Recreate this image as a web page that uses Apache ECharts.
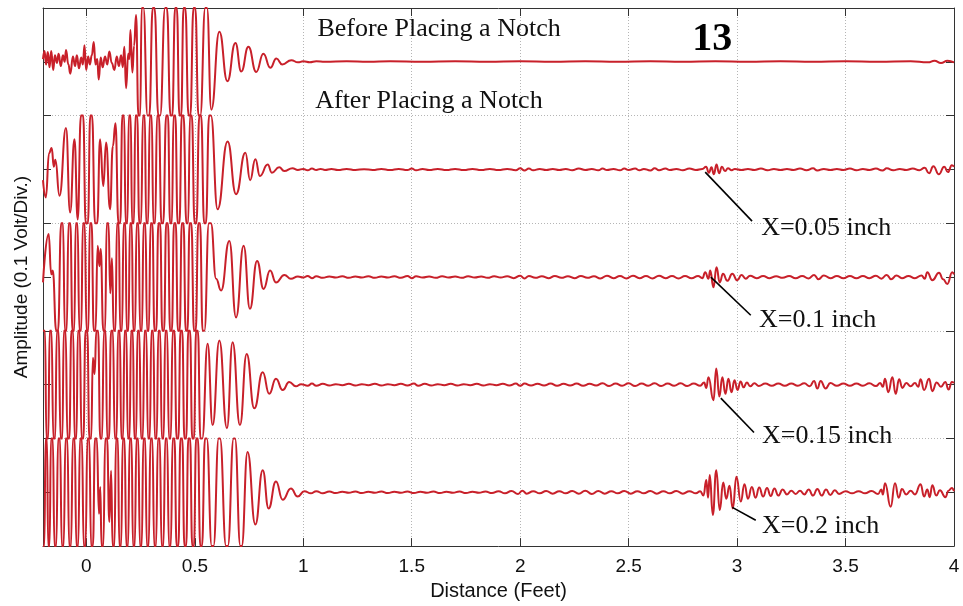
<!DOCTYPE html>
<html>
<head>
<meta charset="utf-8">
<script src="https://cdn.jsdelivr.net/npm/echarts@6/dist/echarts.min.js"></script>
<style>html,body{margin:0;padding:0;background:#fff;}#c{width:963px;height:606px;}</style>
</head>
<body>
<div id="c"></div>
<script>
// ---- data: [distance (ft), amplitude (divisions, relative to each trace's own baseline)] ----
const xTicks = [0, 0.5, 1, 1.5, 2, 2.5, 3, 3.5, 4];
const traceNames = ['Before Placing a Notch', 'X=0.05 inch', 'X=0.1 inch', 'X=0.15 inch', 'X=0.2 inch'];
const traceBaselines = [9, 7, 5, 3, 1];

const trace1 = [[-0.200,0.05],[-0.193,0.20],[-0.186,-0.05],[-0.178,0.18],[-0.170,-0.10],[-0.162,0.20],[-0.153,-0.15],[-0.145,0.12],[-0.136,-0.02],[-0.128,0.15],[-0.118,-0.08],[-0.108,0.12],[-0.100,0.0],[-0.094,0.22],[-0.083,-0.05],[-0.074,-0.22],[-0.062,0.10],[-0.052,-0.08],[-0.044,0.12],[-0.034,-0.12],[-0.024,0.08],[-0.016,-0.05],[-0.009,0.31],[-0.001,-0.15],[0.008,0.10],[0.016,-0.05],[0.025,0.12],[0.034,0.37],[0.042,-0.05],[0.050,0.05],[0.057,-0.33],[0.066,0.08],[0.075,-0.10],[0.086,0.10],[0.096,-0.05],[0.106,0.19],[0.117,-0.02],[0.129,-0.15],[0.140,0.10],[0.150,-0.08],[0.160,0.12],[0.168,-0.10],[0.175,0.28],[0.183,-0.49],[0.193,0.15],[0.198,0.05],[0.203,0.59],[0.212,-0.20],[0.220,0.30],[0.229,0.87],
[0.240,-1],[0.248,-1],[0.255,1],[0.263,1],[0.282,-1],[0.290,-1],[0.306,1],[0.314,1],[0.332,-1],[0.340,-1],[0.363,1],[0.371,1],[0.388,-1],[0.396,-1],[0.409,1],[0.417,1],[0.429,-1],[0.437,-1],[0.448,1],[0.456,1],[0.471,-1],[0.479,-1],[0.494,1],[0.502,1],[0.517,-1],[0.525,-1],[0.548,1],[0.556,1],
[0.576,-0.89],[0.613,0.56],[0.650,-0.36],[0.687,0.35],[0.714,-0.18],[0.747,0.28],[0.783,-0.19],[0.816,0.15],[0.848,-0.11],[0.876,0.06],[0.903,-0.05],[0.945,0.03],[0.975,-0.01],
[1.00,0.01],[1.03,-0.01],[1.06,0.01],[1.10,0.0],[1.20,0.01],[1.30,0.0],[1.40,0.01],[1.55,0.0],[1.70,0.01],[1.85,0.0],[2.00,0.01],[2.15,0.0],[2.30,0.01],[2.45,0.0],[2.60,0.01],[2.75,0.0],[2.90,0.01],[3.05,0.0],[3.20,0.01],[3.35,0.0],[3.50,0.01],[3.65,0.0],[3.80,0.01],[3.88,-0.01],[3.91,0.02],[3.94,-0.02],[3.97,0.02],[4.00,-0.01]];

const trace2 = [[-0.200,-0.20],[-0.187,-0.52],[-0.172,0.30],[-0.160,0.40],[-0.150,0.05],[-0.143,0.18],[-0.124,-0.49],[-0.094,0.77],[-0.075,-0.80],[-0.055,0.56],[-0.040,-0.93],
[-0.025,1],[-0.015,1],[-0.003,-1],[0.007,-1],[0.018,1],[0.026,1],[0.040,-1],[0.050,-1],
[0.063,0.56],[0.078,-0.31],[0.091,0.50],[0.109,-0.74],[0.122,0.43],[0.134,0.86],
[0.148,-1],[0.156,-1],[0.166,1],[0.174,1],[0.181,-1],[0.189,-1],[0.196,1],[0.204,1],[0.211,-1],[0.219,-1],[0.226,1],[0.234,1],[0.244,-1],[0.252,-1],[0.261,1],[0.269,1],[0.276,-1],[0.284,-1],[0.293,1],[0.301,1],[0.309,-1],[0.317,-1],[0.326,1],[0.334,1],[0.346,-1],[0.354,-1],[0.368,1],[0.376,1],[0.386,-1],[0.394,-1],[0.402,1],[0.410,1],[0.421,-1],[0.429,-1],[0.440,1],[0.448,1],[0.461,-1],[0.469,-1],[0.478,1],[0.486,1],[0.499,-1],[0.507,-1],[0.521,1],[0.529,1],[0.543,-1],[0.551,-1],[0.566,1],[0.574,1],
[0.605,-0.74],[0.651,0.52],[0.690,-0.46],[0.733,0.31],[0.755,-0.20],[0.779,0.19],[0.800,-0.12],[0.836,0.09],[0.855,-0.06],[0.889,0.04],[0.912,-0.03],[0.950,0.02],[0.975,-0.01],
[1.00,0.01],[1.02,-0.015],[1.04,0.015],[1.06,-0.01],[1.08,0.01],[1.10,-0.01],[1.13,0.01],[1.16,-0.01],[1.20,0.01],[1.24,-0.01],[1.28,0.005],[1.32,-0.01],[1.36,0.01],[1.40,-0.01],[1.44,0.01],[1.48,-0.01],[1.50,0.015],[1.52,-0.015],[1.55,0.01],[1.58,-0.01],[1.62,0.01],[1.66,-0.01],[1.70,0.01],[1.74,-0.01],[1.78,0.01],[1.82,-0.01],[1.86,0.01],[1.90,-0.01],[1.94,0.01],[1.98,-0.015],[2.00,0.02],[2.02,-0.02],[2.04,0.015],[2.06,-0.015],[2.09,0.01],[2.12,-0.01],[2.15,0.01],[2.18,-0.01],[2.21,0.01],[2.24,-0.015],[2.27,0.015],[2.30,-0.01],[2.33,0.01],[2.36,-0.015],[2.38,0.015],[2.40,-0.01],[2.43,0.01],[2.46,-0.015],[2.48,0.015],[2.50,-0.01],[2.53,0.015],[2.55,-0.015],[2.57,0.01],[2.60,-0.02],[2.62,0.02],[2.64,-0.015],[2.67,0.015],[2.69,-0.01],[2.72,0.01],[2.75,-0.015],[2.78,0.015],[2.81,-0.01],[2.84,0.01],
[2.857,0.05],[2.870,-0.06],[2.882,0.04],[2.893,-0.09],[2.905,0.09],[2.917,-0.07],[2.930,0.05],[2.944,-0.03],[2.958,0.02],[2.975,-0.015],[2.99,0.01],[3.02,-0.01],[3.05,0.01],[3.08,-0.01],[3.11,0.015],[3.14,-0.015],[3.17,0.01],[3.20,-0.01],[3.23,0.01],[3.26,-0.01],[3.29,0.015],[3.32,-0.015],[3.35,0.02],[3.37,-0.02],[3.40,0.01],[3.43,-0.01],[3.46,0.01],[3.49,-0.01],[3.52,0.015],[3.55,-0.015],[3.58,0.01],[3.61,-0.01],[3.64,0.015],[3.67,-0.02],[3.69,0.02],[3.72,-0.015],[3.75,0.01],[3.78,-0.01],[3.81,0.015],[3.84,-0.015],[3.865,0.03],[3.885,-0.07],[3.905,0.06],[3.930,-0.09],[3.955,0.05],[3.972,-0.05],[3.990,0.08],[4.00,0.05]];

const trace3 = [[-0.200,-0.10],[-0.174,0.80],[-0.162,0.05],[-0.155,0.12],
[-0.139,-1],[-0.131,-1],[-0.116,1],[-0.108,1],[-0.099,-1],[-0.091,-1],[-0.082,1],[-0.074,1],[-0.064,-1],[-0.056,-1],[-0.049,1],[-0.041,1],[-0.032,-1],[-0.024,-1],[-0.016,1],[-0.008,1],[0.001,-1],[0.009,-1],[0.016,1],[0.024,1],[0.034,-1],[0.042,-1],
[0.052,0.58],[0.060,0.20],[0.066,0.52],
[0.078,-1],[0.086,-1],[0.094,1],[0.102,1],[0.110,-0.30],[0.118,0.35],
[0.126,-1],[0.134,-1],[0.141,1],[0.149,1],[0.156,-1],[0.164,-1],[0.172,1],[0.180,1],[0.186,-1],[0.194,-1],[0.201,1],[0.209,1],[0.216,-1],[0.224,-1],[0.232,1],[0.240,1],[0.248,-1],[0.256,-1],[0.264,1],[0.272,1],[0.280,-1],[0.288,-1],[0.296,1],[0.304,1],[0.314,-1],[0.322,-1],[0.332,1],[0.340,1],[0.350,-1],[0.358,-1],[0.368,1],[0.376,1],[0.386,-1],[0.394,-1],[0.404,1],[0.412,1],[0.422,-1],[0.430,-1],[0.440,1],[0.448,1],[0.458,-1],[0.466,-1],[0.476,1],[0.484,1],[0.496,-1],[0.504,-1],[0.516,1],[0.524,1],[0.536,-1],[0.544,-1],[0.565,1],[0.574,1],
[0.598,-0.03],[0.621,-0.25],[0.659,0.67],[0.690,-0.75],[0.725,0.58],[0.754,-0.59],[0.787,0.30],[0.817,-0.22],[0.847,0.12],[0.874,-0.10],[0.913,0.04],[0.943,-0.03],[0.975,0.01],
[1.00,-0.01],[1.02,0.02],[1.04,-0.02],[1.06,0.015],[1.09,-0.015],[1.12,0.01],[1.15,-0.01],[1.18,0.015],[1.21,-0.015],[1.24,0.01],[1.27,-0.01],[1.30,0.015],[1.33,-0.015],[1.36,0.01],[1.39,-0.01],[1.42,0.015],[1.45,-0.015],[1.48,0.02],[1.50,-0.02],[1.52,0.015],[1.55,-0.01],[1.58,0.01],[1.61,-0.015],[1.64,0.015],[1.67,-0.01],[1.70,0.01],[1.73,-0.015],[1.76,0.015],[1.79,-0.01],[1.82,0.01],[1.85,-0.015],[1.88,0.015],[1.91,-0.01],[1.94,0.015],[1.97,-0.02],[2.00,0.025],[2.02,-0.025],[2.04,0.02],[2.07,-0.015],[2.10,0.015],[2.13,-0.02],[2.16,0.02],[2.19,-0.015],[2.22,0.015],[2.25,-0.02],[2.28,0.02],[2.31,-0.015],[2.34,0.015],[2.37,-0.025],[2.40,0.025],[2.43,-0.02],[2.46,0.02],[2.49,-0.025],[2.52,0.025],[2.55,-0.02],[2.58,0.02],[2.61,-0.025],[2.64,0.025],[2.67,-0.02],[2.70,0.02],[2.73,-0.025],[2.76,0.02],[2.79,-0.02],[2.82,0.02],[2.84,-0.02],
[2.853,0.09],[2.868,-0.03],[2.876,0.12],[2.891,-0.19],[2.905,0.18],[2.920,-0.10],[2.935,0.06],[2.955,-0.07],[2.978,0.06],[3.001,-0.06],[3.02,0.04],[3.04,-0.03],[3.06,0.025],[3.09,-0.02],[3.12,0.02],[3.15,-0.02],[3.18,0.015],[3.21,-0.015],[3.24,0.02],[3.27,-0.02],[3.30,0.02],[3.33,-0.025],[3.355,0.04],[3.375,-0.04],[3.40,0.03],[3.43,-0.02],[3.46,0.02],[3.49,-0.02],[3.52,0.02],[3.55,-0.02],[3.58,0.02],[3.61,-0.02],[3.64,0.025],[3.665,-0.03],[3.69,0.04],[3.71,-0.04],[3.735,0.03],[3.76,-0.02],[3.79,0.02],[3.82,-0.02],[3.85,0.03],[3.865,-0.03],[3.877,0.09],[3.900,-0.06],[3.931,0.08],[3.950,-0.04],[3.969,-0.13],[3.992,0.09],[4.00,0.05]];

const trace4 = [[-0.200,1],[-0.191,1],[-0.184,-1],[-0.176,-1],[-0.169,1],[-0.161,1],[-0.152,-1],[-0.144,-1],[-0.136,1],[-0.128,1],[-0.119,-1],[-0.111,-1],[-0.104,1],[-0.096,1],[-0.087,-1],[-0.079,-1],[-0.069,1],[-0.061,1],[-0.054,-1],[-0.046,-1],[-0.039,1],[-0.031,1],[-0.022,-1],[-0.014,-1],[-0.004,1],[0.004,1],[0.014,-1],[0.022,-1],[0.030,0.50],[0.038,0.20],[0.046,1],[0.054,1],[0.064,-1],[0.072,-1],[0.081,1],[0.089,1],[0.096,-1],[0.104,-1],[0.114,1],[0.122,1],[0.131,-1],[0.139,-1],[0.146,1],[0.154,1],[0.161,-1],[0.169,-1],[0.176,1],[0.184,1],[0.191,-1],[0.199,-1],[0.206,1],[0.214,1],[0.221,-1],[0.229,-1],[0.236,1],[0.244,1],[0.252,-1],[0.260,-1],[0.268,1],[0.276,1],[0.284,-1],[0.292,-1],[0.300,1],[0.308,1],[0.316,-1],[0.324,-1],[0.332,1],[0.340,1],[0.348,-1],[0.356,-1],[0.364,1],[0.372,1],[0.381,-1],[0.389,-1],[0.398,1],[0.406,1],[0.416,-1],[0.424,-1],[0.434,1],[0.442,1],[0.452,-1],[0.460,-1],[0.470,1],[0.478,1],[0.488,-1],[0.496,-1],[0.506,1],[0.514,1],[0.526,-1],[0.534,-1],
[0.559,0.76],[0.582,-0.75],[0.613,0.82],[0.648,-0.81],[0.674,0.79],[0.708,-0.75],[0.739,0.57],[0.774,-0.44],[0.813,0.23],[0.843,-0.17],[0.874,0.11],[0.905,-0.10],[0.935,0.05],[0.966,-0.03],[0.990,0.01],
[1.02,-0.02],[1.04,0.02],[1.06,-0.02],[1.09,0.015],[1.12,-0.015],[1.15,0.01],[1.18,-0.01],[1.21,0.015],[1.24,-0.015],[1.27,0.01],[1.30,-0.01],[1.33,0.015],[1.36,-0.015],[1.39,0.01],[1.42,-0.01],[1.45,0.015],[1.48,-0.015],[1.51,0.02],[1.53,-0.02],[1.56,0.015],[1.59,-0.015],[1.62,0.01],[1.65,-0.01],[1.68,0.015],[1.71,-0.015],[1.74,0.01],[1.77,-0.01],[1.80,0.015],[1.83,-0.015],[1.86,0.01],[1.89,-0.01],[1.92,0.015],[1.95,-0.015],[1.98,0.02],[2.00,-0.02],[2.02,0.02],[2.05,-0.015],[2.08,0.015],[2.11,-0.015],[2.14,0.02],[2.17,-0.02],[2.20,0.015],[2.23,-0.015],[2.26,0.02],[2.29,-0.02],[2.32,0.015],[2.35,-0.015],[2.38,0.025],[2.41,-0.025],[2.44,0.02],[2.47,-0.02],[2.50,0.025],[2.53,-0.025],[2.56,0.02],[2.59,-0.02],[2.62,0.025],[2.65,-0.025],[2.68,0.02],[2.71,-0.02],[2.74,0.025],[2.77,-0.025],[2.80,0.02],[2.83,-0.02],
[2.848,0.04],[2.858,-0.06],[2.868,0.14],[2.891,-0.29],[2.904,0.30],[2.918,-0.22],[2.932,0.14],[2.946,-0.17],[2.960,0.11],[2.974,-0.14],[2.988,0.08],[3.002,-0.10],[3.016,0.06],[3.03,-0.05],[3.045,0.04],[3.06,-0.03],[3.08,0.025],[3.10,-0.025],[3.13,0.02],[3.16,-0.02],[3.19,0.02],[3.22,-0.02],[3.25,0.02],[3.28,-0.02],[3.31,0.025],[3.335,-0.03],[3.355,0.07],[3.370,-0.07],[3.385,0.07],[3.408,-0.07],[3.43,0.03],[3.46,-0.02],[3.49,0.02],[3.52,-0.02],[3.55,0.02],[3.58,-0.02],[3.61,0.025],[3.64,-0.025],[3.66,0.03],[3.672,-0.04],[3.682,0.11],[3.697,-0.14],[3.716,0.14],[3.731,-0.17],[3.747,0.10],[3.762,-0.06],[3.78,0.03],[3.80,-0.03],[3.82,0.03],[3.835,-0.04],[3.846,0.10],[3.862,-0.10],[3.885,0.11],[3.900,-0.12],[3.92,0.04],[3.94,-0.04],[3.96,0.05],[3.975,-0.09],[3.99,0.05],[4.00,0.03]];

const trace5 = [[-0.200,-1],[-0.194,-1],[-0.188,1],[-0.182,1],[-0.176,-1],[-0.170,-1],[-0.163,1],[-0.155,1],[-0.147,-1],[-0.139,-1],[-0.130,1],[-0.122,1],[-0.113,-1],[-0.105,-1],[-0.096,1],[-0.088,1],[-0.079,-1],[-0.071,-1],[-0.062,1],[-0.054,1],[-0.046,-1],[-0.038,-1],[-0.029,1],[-0.021,1],[-0.012,-1],[-0.004,-1],[0.005,1],[0.013,1],[0.022,-1],[0.030,-1],[0.040,1],[0.048,1],[0.058,-0.40],[0.064,0.10],[0.070,-1],[0.078,-1],[0.087,1],[0.095,1],[0.106,-0.55],[0.114,0.40],[0.121,-1],[0.129,-1],[0.137,1],[0.145,1],[0.152,-1],[0.160,-1],[0.168,1],[0.176,1],[0.184,-1],[0.192,-1],[0.200,1],[0.208,1],[0.215,-1],[0.223,-1],[0.231,1],[0.239,1],[0.247,-1],[0.255,-1],[0.263,1],[0.271,1],[0.279,-1],[0.287,-1],[0.296,1],[0.304,1],[0.313,-1],[0.321,-1],[0.330,1],[0.338,1],[0.347,-1],[0.355,-1],[0.364,1],[0.372,1],[0.381,-1],[0.389,-1],[0.398,1],[0.406,1],[0.416,-1],[0.424,-1],[0.434,1],[0.442,1],[0.452,-1],[0.460,-1],[0.470,1],[0.478,1],[0.488,-1],[0.496,-1],[0.506,1],[0.514,1],[0.525,-1],[0.533,-1],[0.547,1],[0.555,1],[0.578,-1],[0.586,-1],[0.610,1],[0.616,1],[0.644,-1],[0.652,-1],[0.679,1],[0.685,1],[0.710,-1],[0.716,-1],
[0.743,0.75],[0.779,-0.60],[0.813,0.41],[0.840,-0.30],[0.874,0.20],[0.905,-0.14],[0.943,0.07],[0.974,-0.08],[1.005,0.02],[1.035,-0.02],
[1.06,0.02],[1.09,-0.02],[1.12,0.015],[1.15,-0.015],[1.18,0.01],[1.21,-0.01],[1.24,0.015],[1.27,-0.015],[1.30,0.01],[1.33,-0.01],[1.36,0.015],[1.39,-0.015],[1.42,0.01],[1.45,-0.01],[1.48,0.015],[1.51,-0.015],[1.54,0.01],[1.57,-0.01],[1.60,0.015],[1.63,-0.015],[1.66,0.01],[1.69,-0.01],[1.72,0.015],[1.75,-0.015],[1.78,0.01],[1.81,-0.01],[1.84,0.015],[1.87,-0.015],[1.90,0.02],[1.93,-0.02],[1.96,0.025],[1.99,-0.03],[2.01,0.03],[2.03,-0.025],[2.06,0.02],[2.09,-0.02],[2.12,0.025],[2.15,-0.025],[2.18,0.02],[2.21,-0.02],[2.24,0.025],[2.27,-0.025],[2.30,0.03],[2.33,-0.03],[2.36,0.025],[2.39,-0.025],[2.42,0.02],[2.45,-0.02],[2.48,0.025],[2.51,-0.025],[2.54,0.02],[2.57,-0.02],[2.60,0.025],[2.63,-0.025],[2.66,0.02],[2.69,-0.02],[2.72,0.025],[2.75,-0.025],[2.78,0.02],[2.81,-0.02],[2.83,0.02],
[2.845,-0.06],[2.858,0.23],[2.866,-0.10],[2.874,0.32],[2.888,-0.42],[2.904,0.41],[2.920,-0.33],[2.936,0.18],[2.950,-0.12],[2.965,0.12],[2.980,-0.30],[2.997,0.29],[3.017,-0.17],[3.034,0.15],[3.050,-0.12],[3.068,0.10],[3.085,-0.10],[3.102,0.09],[3.12,-0.08],[3.138,0.08],[3.155,-0.07],[3.172,0.07],[3.19,-0.06],[3.21,0.05],[3.23,-0.04],[3.25,0.03],[3.27,-0.03],[3.29,0.03],[3.31,-0.04],[3.33,0.05],[3.35,-0.06],[3.37,0.06],[3.39,-0.06],[3.41,0.05],[3.43,-0.05],[3.45,0.04],[3.47,-0.03],[3.50,0.02],[3.53,-0.02],[3.56,0.02],[3.59,-0.02],[3.62,0.025],[3.65,-0.03],[3.665,0.05],[3.672,-0.04],[3.682,0.17],[3.708,-0.27],[3.728,0.17],[3.745,-0.10],[3.76,0.06],[3.78,-0.04],[3.80,0.03],[3.82,-0.04],[3.846,0.15],[3.862,-0.08],[3.877,0.05],[3.888,-0.09],[3.900,0.13],[3.918,-0.06],[3.935,0.04],[3.96,-0.09],[3.975,0.03],[3.99,0.08],[4.00,0.02]];

const traces = [trace1, trace2, trace3, trace4, trace5];

// annotation texts and anchor points (data coordinates)
const titleTexts = ['Before Placing a Notch', 'After Placing a Notch'];
const titleAnchors = [[1.065, 9.61], [1.055, 8.26]];
const figNumber = '13';
const figNumberAnchor = [2.793, 9.41];
const noteLabels = ['X=0.05 inch', 'X=0.1 inch', 'X=0.15 inch', 'X=0.2 inch'];
const noteFrom = [[2.853, 6.95], [2.879, 5.00], [2.925, 2.75], [2.978, 0.72]];
const noteTo = [[3.069, 6.04], [3.063, 4.29], [3.078, 2.11], [3.086, 0.48]];
const noteTextAt = [[3.111, 5.91], [3.101, 4.20], [3.115, 2.05], [3.115, 0.37]];

const chart = echarts.init(document.getElementById('c'), null, {renderer: 'canvas'});
const RED = '#c8202a';
const AX = '#333';

const series = traces.map((t, i) => ({
  type: 'line',
  name: traceNames[i],
  xAxisIndex: 0,
  yAxisIndex: 0,
  data: t.map(p => [p[0], p[1] + traceBaselines[i]]),
  showSymbol: false,
  symbol: 'none',
  smooth: 0.5,
  smoothMonotone: 'x',
  clip: true,
  lineStyle: {color: RED, width: 2},
  z: 3
}));

chart.setOption({
  animation: false,
  backgroundColor: '#fff',
  grid: {left: 43, right: 9, top: 8, bottom: 57, containLabel: false},
  xAxis: [{
    type: 'value', min: -0.2, max: 4, position: 'bottom',
    name: 'Distance (Feet)', nameLocation: 'middle', nameGap: 33,
    nameTextStyle: {fontFamily: 'Liberation Sans', fontSize: 20, color: '#111'},
    axisLine: {show: true, onZero: false, lineStyle: {color: AX, width: 1}},
    axisTick: {show: true, inside: true, length: 8, customValues: xTicks, lineStyle: {color: AX}},
    axisLabel: {show: true, customValues: xTicks, margin: 11, fontFamily: 'Liberation Sans', fontSize: 19, color: '#111'},
    splitLine: {show: true, lineStyle: {color: '#b5b5b5', width: 1, type: [1, 2]}}
  }, {
    type: 'value', min: -0.2, max: 4, position: 'top',
    axisLine: {show: true, onZero: false, lineStyle: {color: AX, width: 1}},
    axisTick: {show: true, inside: true, length: 8, customValues: xTicks, lineStyle: {color: AX}},
    axisLabel: {show: false},
    splitLine: {show: false}
  }],
  yAxis: [{
    type: 'value', min: 0, max: 10, interval: 1, position: 'left',
    name: 'Amplitude (0.1 Volt/Div.)', nameLocation: 'middle', nameGap: 12,
    nameTextStyle: {fontFamily: 'Liberation Sans', fontSize: 19, color: '#111'},
    axisLine: {show: true, onZero: false, lineStyle: {color: AX, width: 1}},
    axisTick: {show: true, inside: true, length: 8, lineStyle: {color: AX}},
    axisLabel: {show: false},
    splitLine: {show: false}
  }, {
    type: 'value', min: 0, max: 10, interval: 1, position: 'right',
    axisLine: {show: true, onZero: false, lineStyle: {color: AX, width: 1}},
    axisTick: {show: true, inside: true, length: 8, lineStyle: {color: AX}},
    axisLabel: {show: false},
    splitLine: {show: false}
  }, {
    type: 'value', min: 0, max: 10, interval: 2, position: 'left',
    axisLine: {show: false}, axisTick: {show: false}, axisLabel: {show: false},
    splitLine: {show: true, lineStyle: {color: '#b5b5b5', width: 1, type: [1, 2]}}
  }],
  series: series
});

function px(p) { return chart.convertToPixel({gridIndex: 0}, p); }
const graphics = [];
titleTexts.forEach((t, i) => {
  const q = px(titleAnchors[i]);
  graphics.push({type: 'text', z: 10, style: {text: t, x: q[0], y: q[1], fill: '#111', fontFamily: 'Liberation Serif', fontSize: 26, align: 'left', verticalAlign: 'middle'}});
});
{
  const q = px(figNumberAnchor);
  graphics.push({type: 'text', z: 10, style: {text: figNumber, x: q[0], y: q[1], fill: '#000', fontFamily: 'Liberation Serif', fontWeight: 'bold', fontSize: 40, align: 'left', verticalAlign: 'middle'}});
}
noteLabels.forEach((t, i) => {
  const a = px(noteFrom[i]), b = px(noteTo[i]), c = px(noteTextAt[i]);
  graphics.push({type: 'line', z: 10, shape: {x1: a[0], y1: a[1], x2: b[0], y2: b[1]}, style: {stroke: '#000', lineWidth: 1.6}});
  graphics.push({type: 'text', z: 10, style: {text: t, x: c[0], y: c[1], fill: '#111', fontFamily: 'Liberation Serif', fontSize: 26, align: 'left', verticalAlign: 'middle'}});
});
chart.setOption({graphic: graphics});
</script>
</body>
</html>
